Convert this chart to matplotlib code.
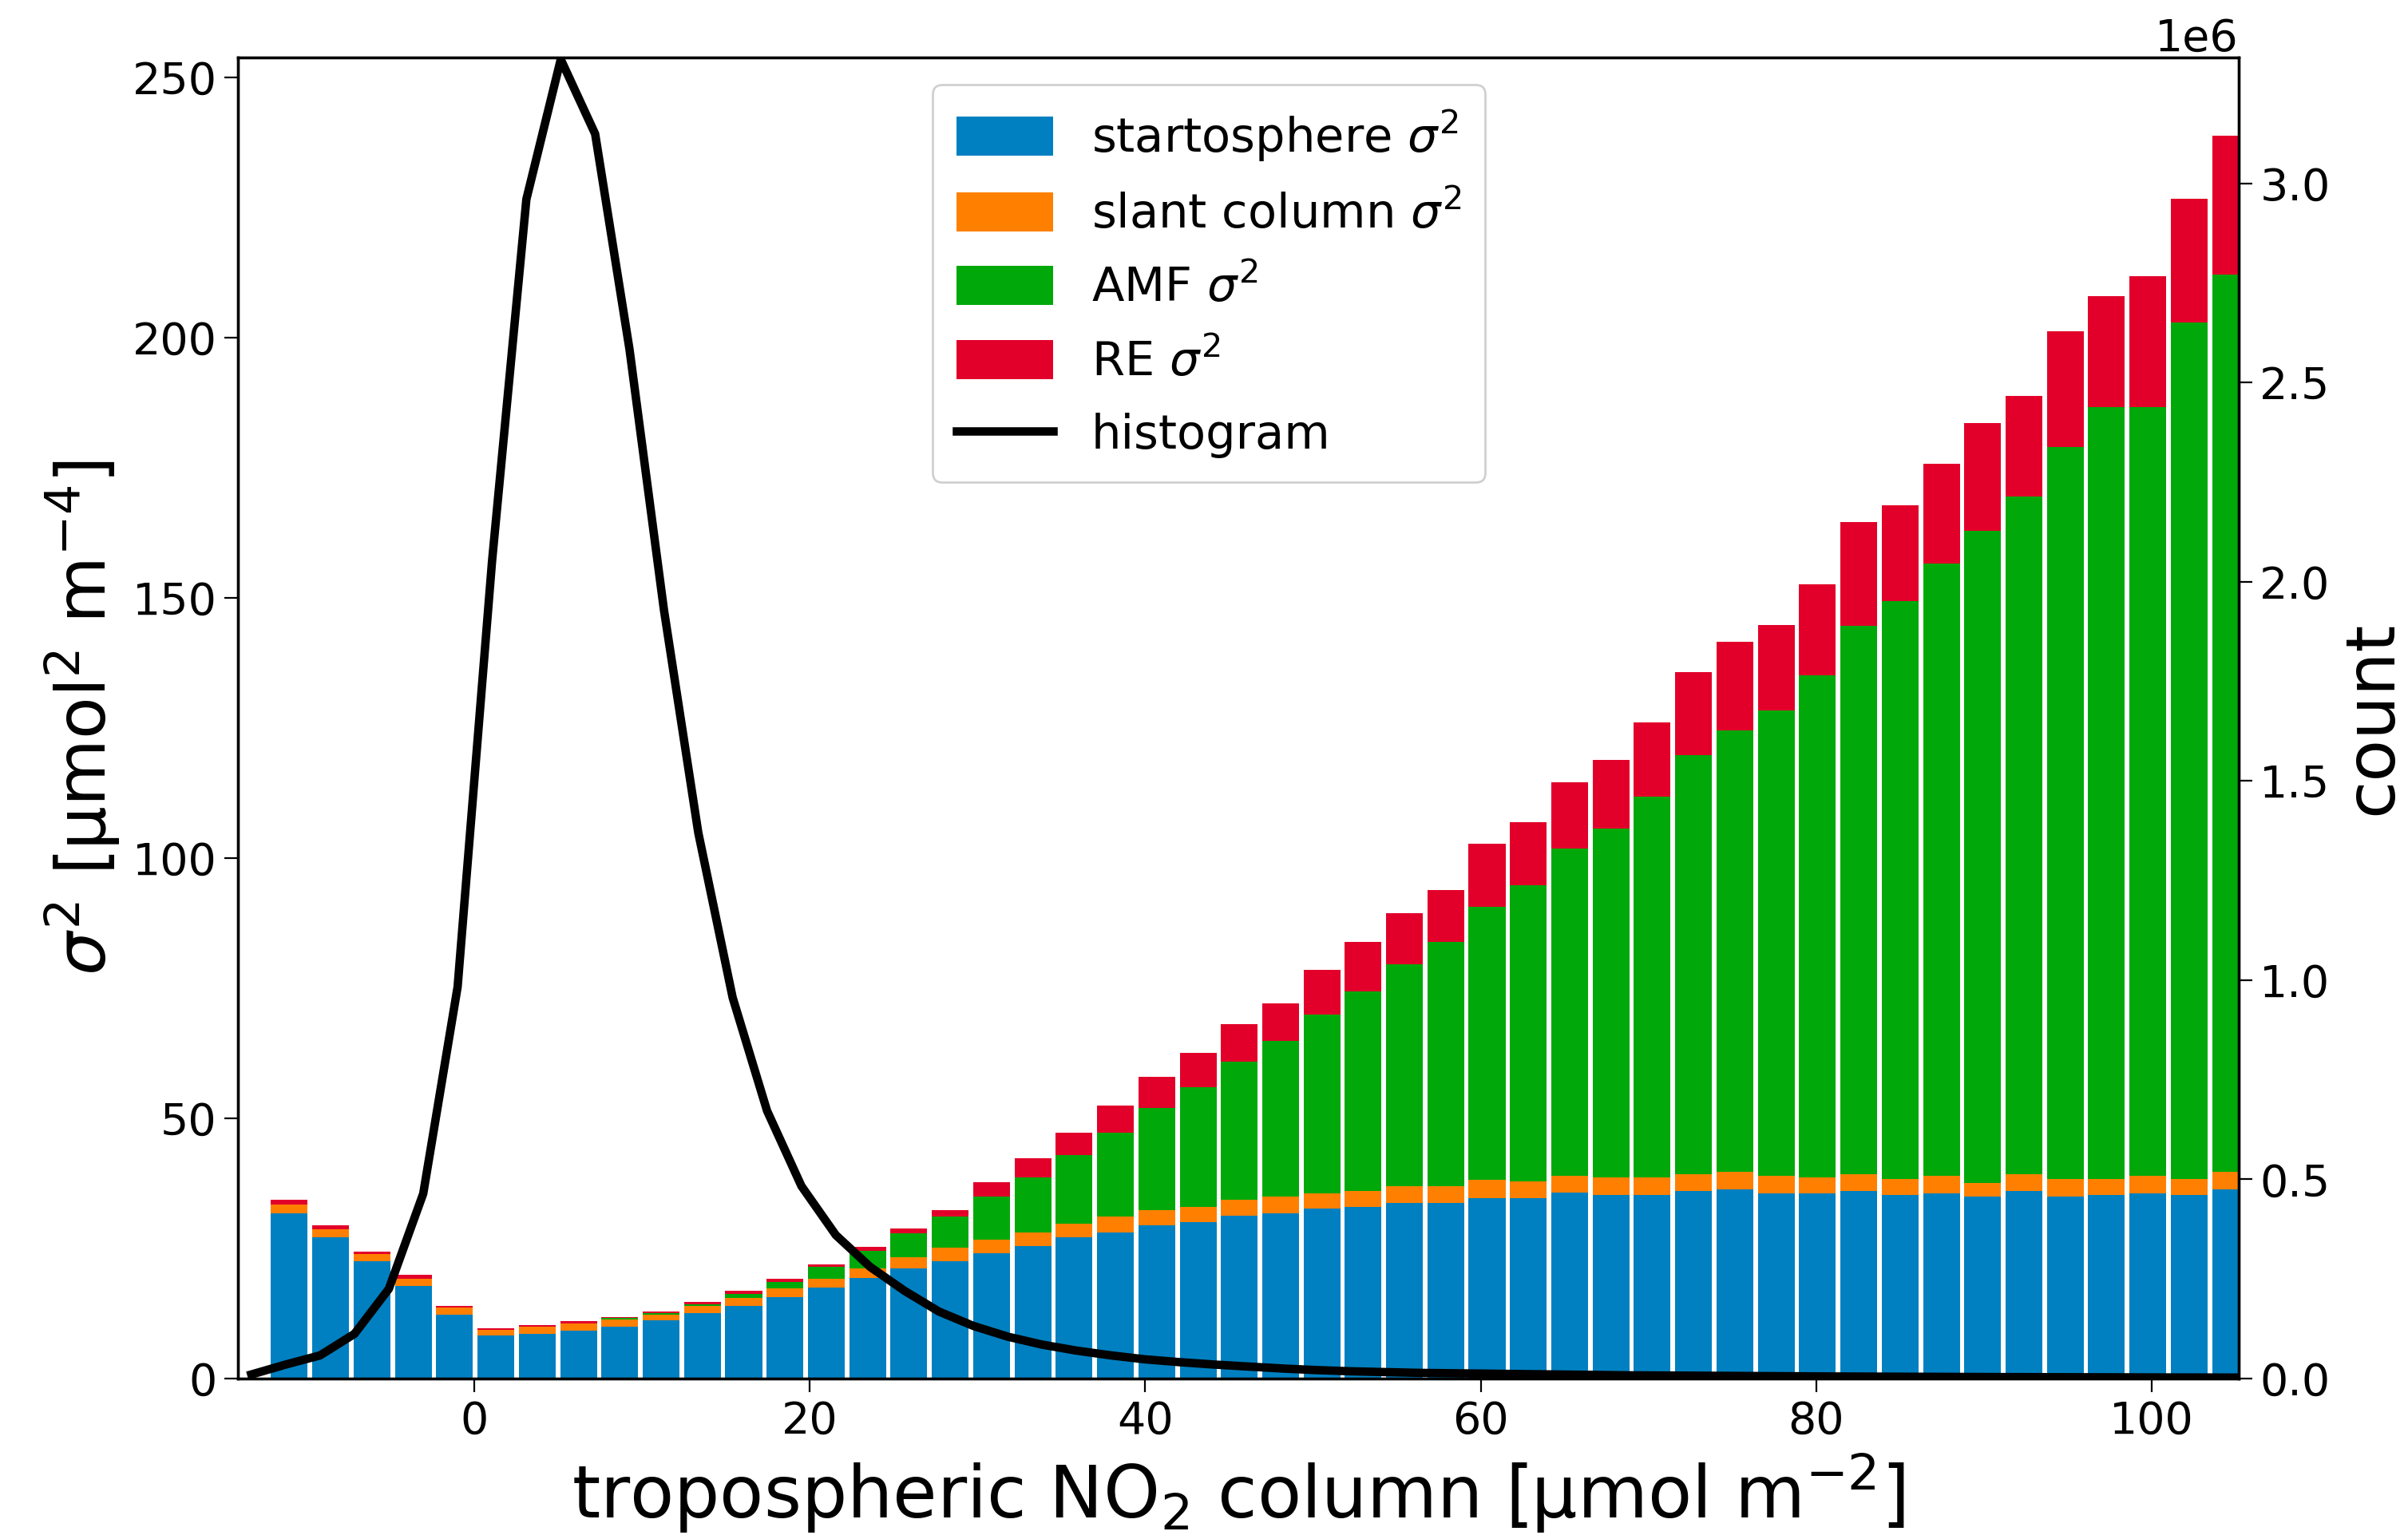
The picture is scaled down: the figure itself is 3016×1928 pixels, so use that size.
#!/usr/bin/env python3
"""Stacked variance budget of tropospheric NO2 columns with the column histogram."""

import matplotlib as mpl
import matplotlib.pyplot as plt
from matplotlib.lines import Line2D
from matplotlib.patches import Patch

# bin centres of the variance budget [umol m-2]
BIN_CENTRES = [
    -11.03, -8.57, -6.10, -3.64, -1.18, 1.28, 3.75, 6.21, 8.67, 11.13,
    13.60, 16.06, 18.52, 20.98, 23.45, 25.91, 28.37, 30.83, 33.30, 35.76,
    38.22, 40.68, 43.15, 45.61, 48.07, 50.53, 53.00, 55.46, 57.92, 60.38,
    62.85, 65.31, 67.77, 70.23, 72.70, 75.16, 77.62, 80.08, 82.55, 85.01,
    87.47, 89.93, 92.40, 94.86, 97.32, 99.78, 102.25, 104.71,
]
BIN_WIDTH = 2.4625

# variance contributions [umol2 m-4]
STRAT_VAR = [
    31.7, 27.1, 22.5, 17.7, 12.2, 8.3, 8.6, 9.2, 10.0, 11.2,
    12.5, 13.9, 15.6, 17.5, 19.3, 21.1, 22.5, 24.0, 25.5, 27.1,
    28.1, 29.4, 30.1, 31.3, 31.7, 32.7, 33.0, 33.7, 33.7, 34.6,
    34.6, 35.7, 35.3, 35.3, 36.0, 36.4, 35.6, 35.6, 36.0, 35.3,
    35.6, 34.9, 36.0, 34.9, 35.3, 35.6, 35.3, 36.4,
]
SLANT_VAR = [
    1.7, 1.5, 1.4, 1.4, 1.5, 1.0, 1.3, 1.4, 1.3, 1.1,
    1.4, 1.5, 1.7, 1.7, 1.9, 2.2, 2.7, 2.7, 2.6, 2.6,
    3.0, 3.0, 2.9, 3.1, 3.3, 2.9, 3.0, 3.3, 3.3, 3.5,
    3.3, 3.2, 3.3, 3.3, 3.3, 3.3, 3.4, 3.0, 3.3, 3.0,
    3.4, 2.6, 3.3, 3.4, 3.0, 3.4, 3.0, 3.3,
]
AMF_VAR = [
    0.0, 0.0, 0.0, 0.0, 0.0, 0.0, 0.0, 0.0, 0.3, 0.3,
    0.4, 0.8, 1.2, 2.3, 3.3, 4.6, 5.9, 8.3, 10.5, 13.2,
    16.1, 19.5, 22.9, 26.4, 29.9, 34.3, 38.3, 42.6, 46.8, 52.5,
    56.8, 62.9, 67.0, 73.2, 80.5, 84.8, 89.3, 96.5, 105.3, 111.0,
    117.6, 125.3, 130.1, 140.7, 148.3, 147.6, 164.6, 172.4,
]
RE_VAR = [
    1.0, 0.9, 0.5, 0.8, 0.3, 0.4, 0.3, 0.4, 0.2, 0.3,
    0.4, 0.7, 0.7, 0.4, 0.8, 0.9, 1.3, 2.7, 3.7, 4.3,
    5.3, 6.0, 6.6, 7.3, 7.1, 8.6, 9.5, 9.8, 10.0, 12.1,
    12.1, 12.7, 13.3, 14.2, 15.9, 17.1, 16.5, 17.4, 20.0, 18.4,
    19.1, 20.8, 19.4, 22.2, 21.4, 25.1, 23.7, 26.6,
]

# histogram of the retrieved columns
HIST_X = [
    -13.3, -11.25, -9.2, -7.15, -5.1, -3.05, -1.0, 1.05, 3.1, 5.15,
    7.2, 9.25, 11.3, 13.35, 15.4, 17.45, 19.5, 21.55, 23.6, 25.65,
    27.7, 29.75, 31.8, 33.85, 35.9, 37.95, 40.0, 42.05, 44.1, 46.15,
    48.2, 50.25, 52.3, 54.35, 56.4, 58.45, 60.5, 62.55, 64.6, 66.65,
    68.7, 70.75, 72.8, 74.85, 76.9, 78.95, 81.0, 83.05, 85.1, 87.15,
    89.2, 91.25, 93.3, 95.35, 97.4, 99.45, 101.5, 103.55, 105.6,
]
HIST_COUNT = [
    0.010e6, 0.035e6, 0.058e6, 0.112e6, 0.225e6, 0.464e6, 0.983e6, 2.05e6, 2.96e6, 3.311e6,
    3.124e6, 2.583e6, 1.93e6, 1.37e6, 0.956e6, 0.672e6, 0.483e6, 0.36e6, 0.28e6, 0.22e6,
    0.168e6, 0.132e6, 0.105e6, 0.085e6, 0.070e6, 0.058e6, 0.048e6, 0.041e6, 0.035e6, 0.030e6,
    0.025e6, 0.021e6, 0.018e6, 0.016e6, 0.014e6, 0.013e6, 0.012e6, 0.011e6, 0.010e6, 0.009e6,
    0.008e6, 0.0075e6, 0.007e6, 0.0065e6, 0.006e6, 0.0055e6, 0.005e6, 0.0047e6, 0.0044e6, 0.0041e6,
    0.0038e6, 0.0035e6, 0.0033e6, 0.0031e6, 0.0029e6, 0.0027e6, 0.0025e6, 0.0024e6, 0.0022e6,
]

COLORS = {
    "strat": "#0080c0",
    "slant": "#ff8000",
    "amf": "#00a80a",
    "re": "#e2002a",
}
LABELS = {
    "strat": r"startosphere $\sigma^2$",
    "slant": r"slant column $\sigma^2$",
    "amf": r"AMF $\sigma^2$",
    "re": r"RE $\sigma^2$",
}


def configure_matplotlib() -> None:
    mpl.rcParams.update(
        {
            "font.family": "DejaVu Sans",
            "font.size": 20,
            "axes.labelsize": 31,
            "axes.linewidth": 1.2,
            "xtick.labelsize": 20,
            "ytick.labelsize": 20,
            "xtick.major.size": 6,
            "ytick.major.size": 6,
            "legend.fontsize": 21.3,
        }
    )


def main() -> None:
    configure_matplotlib()
    fig, ax = plt.subplots(figsize=(15.08, 9.64), dpi=200)
    fig.subplots_adjust(left=0.0988, right=0.9297, bottom=0.1043, top=0.9627)

    width = BIN_WIDTH * 0.89
    bottom = [0.0] * len(BIN_CENTRES)
    for key, values in (
        ("strat", STRAT_VAR),
        ("slant", SLANT_VAR),
        ("amf", AMF_VAR),
        ("re", RE_VAR),
    ):
        ax.bar(BIN_CENTRES, values, width=width, bottom=bottom,
               color=COLORS[key], linewidth=0, zorder=2)
        bottom = [b + v for b, v in zip(bottom, values)]

    ax.set_xlim(-14.1, 105.2)
    ax.set_ylim(0, 253.8)
    ax.set_xticks([0, 20, 40, 60, 80, 100])
    ax.set_yticks([0, 50, 100, 150, 200, 250])
    ax.set_xlabel(r"tropospheric NO$_2$ column [µmol m$^{-2}$]", fontsize=32.5)
    ax.set_ylabel(r"$\sigma^2$ [µmol$^2$ m$^{-4}$]")

    ax2 = ax.twinx()
    ax2.plot(HIST_X, HIST_COUNT, color="black", linewidth=3.8, zorder=3)
    ax2.set_ylim(0, 3.316e6)
    ax2.set_yticks([0, 0.5e6, 1.0e6, 1.5e6, 2.0e6, 2.5e6, 3.0e6])
    ax2.set_ylabel("count")
    ax2.yaxis.get_offset_text().set_fontsize(20)

    handles = [Patch(facecolor=COLORS[k], label=LABELS[k]) for k in ("strat", "slant", "amf", "re")]
    handles.append(Line2D([], [], color="black", linewidth=3.8, label="histogram"))
    ax2.legend(
        handles=handles,
        loc="upper left",
        bbox_to_anchor=(0.3355, 0.997),
        frameon=True,
        framealpha=1.0,
        edgecolor="#d0d0d0",
        handlelength=2.05,
        handleheight=0.9,
        labelspacing=0.58,
        borderpad=0.5,
    )

    fig.savefig("out.png", dpi=200)


if __name__ == "__main__":
    main()
